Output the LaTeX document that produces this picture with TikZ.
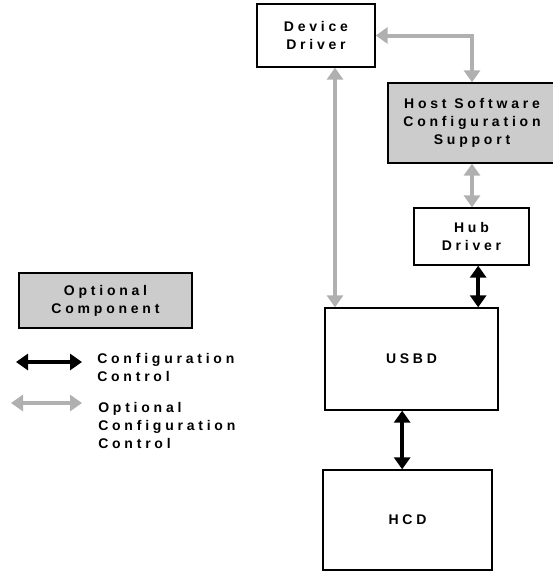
\documentclass[tikz,border=0pt]{standalone}
\usepackage{fontspec}
\newfontfamily\boxfont{Liberation Sans}[LetterSpace=27]
\usetikzlibrary{positioning,calc,arrows.meta}
\definecolor{optgray}{RGB}{176,176,176}
\definecolor{boxgray}{RGB}{204,204,204}
\tikzset{
	my box/.style = {rectangle, draw, line width=1pt, align=center, inner sep=0pt,
		font=\boxfont\bfseries\fontsize{10.5}{13.5}\selectfont},
	opt box/.style = {my box, fill=boxgray}, % grey = optional component
	key text/.style = {anchor=west, align=left, inner sep=0pt,
		font=\boxfont\bfseries\fontsize{10.5}{13.5}\selectfont},
	my edge/.style = {arrows={Triangle[length=9pt,width=12pt]-Triangle[length=9pt,width=12pt]}, line width=3pt},
	opt edge/.style = {my edge, draw=optgray} % optional configuration control
}

\begin{document}
\begin{tikzpicture}[x=0.75pt, y=-0.75pt]
	\useasboundingbox (0,0) rectangle (553,571);
	\node[my box, minimum width=88.5pt, minimum height=47.25pt] (dev) at (316,35.5) {Device\\Driver};
	\node[opt box, minimum width=126pt, minimum height=60pt] (host) at (472,123) {Host Software\\Configuration\\Support};
	\node[my box, minimum width=86.25pt, minimum height=42.75pt] (hub) at (471.5,236.5) {Hub\\Driver};
	\node[my box, minimum width=129.75pt, minimum height=76.5pt] (usbd) at (411.5,359) {USBD};
	\node[my box, minimum width=126.75pt, minimum height=75pt] (hcd) at (407.5,520) {HCD};
	\draw[opt edge] (dev.east) -| (host.north);
	\draw[opt edge] ([xshift=14.25pt]dev.south) -- ([xshift=14.25pt]dev.south |- usbd.north);
	\draw[opt edge] (host.south) -- (host.south |- hub.north);
	\draw[my edge] ([xshift=5pt]hub.south) -- ([xshift=5pt]hub.south |- usbd.north);
	\draw[my edge] ([xshift=-4pt]hcd.north) -- ([xshift=-4pt]hcd.north |- usbd.south);
	% legend
	\node[opt box, minimum width=129.75pt, minimum height=41.25pt] (opt) at (105.5,300.5) {Optional\\Component};
	\coordinate (k1a) at (16,362);
	\coordinate (k1b) at (82,362);
	\draw[my edge] (k1a) -- (k1b);
	\node[key text] (k1) at (97,367.5) {Configuration\\Control};
	\coordinate (k2a) at (11,403);
	\coordinate (k2b) at (82,403);
	\draw[opt edge] (k2a) -- (k2b);
	\node[key text] (k2) at (98,425) {Optional\\Configuration\\Control};
\end{tikzpicture}
\end{document}
